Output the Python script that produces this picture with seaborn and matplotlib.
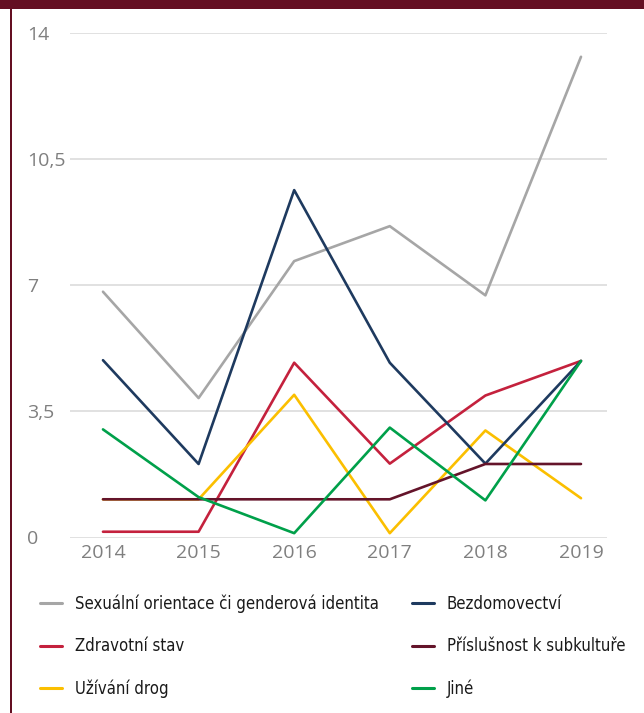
import matplotlib
matplotlib.use("Agg")
import matplotlib.pyplot as plt
from matplotlib import font_manager
from matplotlib.font_manager import FontProperties
from matplotlib.patches import Rectangle
import seaborn as sns
import pandas as pd
import numpy as np

years = ["2014", "2015", "2016", "2017", "2018", "2019"]
sexualni = [6.82, 3.87, 7.67, 8.64, 6.72, 13.34]
zdravotni = [0.16, 0.16, 4.85, 2.05, 3.94, 4.90]
uzivani = [1.06, 1.06, 3.96, 0.12, 2.97, 1.09]
bezdomovectvi = [4.92, 2.04, 9.64, 4.85, 2.05, 4.90]
prislusnost = [1.06, 1.06, 1.06, 1.06, 2.04, 2.04]
jine = [3.00, 1.12, 0.12, 3.05, 1.03, 4.90]

series_names = ["Sexuální orientace či genderová identita", "Zdravotní stav", "Užívání drog",
                "Bezdomovectví", "Příslušnost k subkultuře", "Jiné"]
series_values = [sexualni, zdravotni, uzivani, bezdomovectvi, prislusnost, jine]
colors = ["#a6a6a6", "#c4213d", "#fbbf00", "#1e3a5f", "#64142a", "#00a04a"]
yticks = [0, 3.5, 7, 10.5, 14]
ytick_labels = ["0", "3,5", "7", "10,5", "14"]

rows = []
for name, vals in zip(series_names, series_values):
    for i, v in enumerate(vals):
        rows.append({"x": i, "Rok": years[i], "value": v, "series": name})
df = pd.DataFrame(rows)

sns.set_style("white")
available = {f.name for f in font_manager.fontManager.ttflist}
tick_font = "Open Sans" if "Open Sans" in available else "DejaVu Sans"
plt.rcParams["font.family"] = [tick_font, "DejaVu Sans"]

# condensed legend font if any is installed
legend_prop = None
for fam, stretch in [("Liberation Sans Narrow", "normal"), ("DejaVu Sans", "condensed"),
                     ("Open Sans", "condensed"), ("Roboto", "condensed")]:
    if fam in available:
        fp = FontProperties(family=fam, stretch=stretch)
        path = font_manager.findfont(fp, fallback_to_default=False)
        if "ondensed" in path or "Narrow" in path:
            legend_prop = fp
            break
if legend_prop is None:
    legend_prop = FontProperties(family="Roboto" if "Roboto" in available else "DejaVu Sans")

W, H = 644, 713
fig = plt.figure(figsize=(W / 100, H / 100), dpi=100)
ax = fig.add_axes([70 / W, 1 - 537.5 / H, (607 - 70) / W, (537.5 - 33) / H])

sns.lineplot(data=df, x="x", y="value", hue="series", hue_order=series_names,
             palette=colors, linewidth=1.9, ax=ax, legend=True, zorder=3)

ax.set_xlim(-0.345, 5.272)
ax.set_ylim(0, 14)
ax.set_yticks(yticks)
ax.set_yticklabels(ytick_labels)
ax.set_xticks(range(len(years)))
ax.set_xticklabels(years)
ax.set_xlabel("")
ax.set_ylabel("")
for s in ax.spines.values():
    s.set_visible(False)
ax.grid(axis="y", color="#d9d9d9", linewidth=1.1, zorder=0)
ax.grid(axis="x", visible=False)
ax.tick_params(axis="y", length=0, pad=31, labelsize=14, labelcolor="#7f7f7f")
ax.tick_params(axis="x", length=0, pad=5, labelsize=14, labelcolor="#7f7f7f")
for lab in ax.get_yticklabels():
    lab.set_horizontalalignment("left")

# fit legend font size so the longest label is ~303 px wide
renderer = fig.canvas.get_renderer()
probe_prop = legend_prop.copy()
probe_prop.set_size(15)
t = fig.text(0, 0, series_names[0], fontproperties=probe_prop)
bb = t.get_window_extent(renderer)
t.remove()
size = 15 * 303 / bb.width
fs_px = size * 100 / 72
text_h = bb.height * size / 15
legend_prop.set_size(size)

handles, labels = ax.get_legend_handles_labels()
ax.get_legend().remove()
leg = fig.legend(handles, labels, ncol=2, loc="upper left",
                 bbox_to_anchor=(40 / W, 1 - (603 - text_h / 2) / H), frameon=False,
                 prop=legend_prop,
                 handlelength=22 / fs_px, handletextpad=13 / fs_px,
                 columnspacing=33 / fs_px,
                 labelspacing=(41.5 - text_h) / fs_px, borderpad=0, borderaxespad=0,
                 labelcolor="#1a1a1a")
for line in leg.get_lines():
    line.set_linewidth(2.2)

maroon = "#640f22"
fig.patches.append(Rectangle((0, 1 - 9 / H), 1, 9 / H, transform=fig.transFigure,
                             facecolor=maroon, edgecolor="none", zorder=10))
fig.patches.append(Rectangle((10 / W, 0), 2.2 / W, 1, transform=fig.transFigure,
                             facecolor=maroon, edgecolor="none", zorder=10))

fig.savefig("out.png", dpi=100, facecolor="white")
